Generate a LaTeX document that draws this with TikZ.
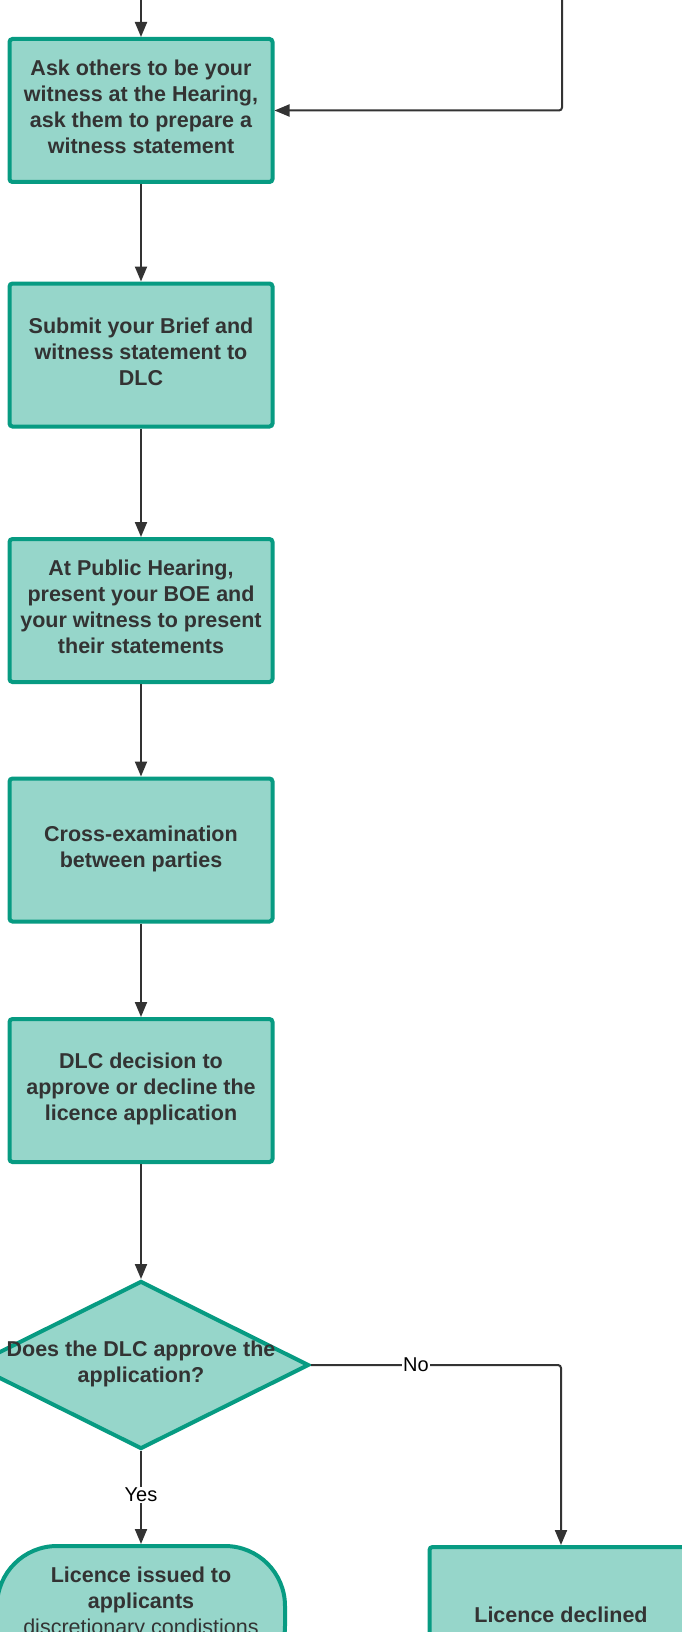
\documentclass[tikz,border=0pt]{standalone}
\usepackage{fontspec}
\setmainfont{Liberation Sans}
\usetikzlibrary{arrows.meta,shapes.geometric}
\definecolor{boxfill}{RGB}{150,214,202}
\definecolor{boxline}{RGB}{7,155,130}
\definecolor{ink}{RGB}{51,51,51}
\begin{document}
\begin{tikzpicture}[x=1pt,y=-1pt,
  stepbox/.style={draw=boxline, fill=boxfill, line width=4pt, rounded corners=3pt,
    minimum width=263pt, minimum height=143pt, inner sep=0pt, text=ink, text depth=7pt,
    font=\bfseries\fontsize{21.5}{26}\selectfont, align=center},
  txt/.style={text=ink, font=\bfseries\fontsize{21.5}{26}\selectfont, align=center, inner sep=0pt},
  arrow/.style={draw=ink, line width=2pt, -{Triangle[length=15pt,width=12pt]}},
  lbl/.style={fill=white, text=black, font=\fontsize{20}{24}\selectfont, inner sep=1pt}]
\useasboundingbox[fill=white] (0,0) rectangle (681,1632);

\node[stepbox] (b1) at (141,110.5) {Ask others to be your\\witness at the Hearing,\\ask them to prepare a\\witness statement};
\node[stepbox] (b2) at (141,355) {Submit your Brief and\\witness statement to\\DLC};
\node[stepbox] (b3) at (141,610.5) {At Public Hearing,\\present your BOE and\\your witness to present\\their statements};
\node[stepbox] (b4) at (141,850) {Cross-examination\\between parties};
\node[stepbox] (b5) at (141,1090.5) {DLC decision to\\approve or decline the\\licence application};

\node[diamond, draw=boxline, fill=boxfill, line width=4pt, inner sep=0pt,
  minimum width=336pt, minimum height=168pt] (dia) at (141,1365) {};
\node[txt] (diatxt) at (141,1364) {Does the DLC approve the\\application?};

\node[draw=boxline, fill=boxfill, line width=4pt, rounded corners=60pt,
  minimum width=288pt, minimum height=140pt, inner sep=0pt] (term) at (141,1616) {};
\node[txt] (termtxt) at (141,1603) {Licence issued to\\applicants\\{\mdseries discretionary condistions}};

\node[stepbox] (decl) at (561,1618.5) {Licence declined};

\coordinate (in1) at (141,-2);
\coordinate (in2) at (562,-2);

\draw[arrow] (in1) -- (b1.north);
\draw[arrow, rounded corners=3pt] (in2) |- (b1.east);
\draw[arrow] (b1) -- (b2);
\draw[arrow] (b2) -- (b3);
\draw[arrow] (b3) -- (b4);
\draw[arrow] (b4) -- (b5);
\draw[arrow] (b5) -- (dia.north);
\draw[arrow] (dia.south) -- (term.north) node[lbl, pos=0.47] {Yes};
\draw[arrow, rounded corners=3pt] (dia.east) -| (decl.north) node[lbl, pos=0.21] {No};
\end{tikzpicture}
\end{document}
